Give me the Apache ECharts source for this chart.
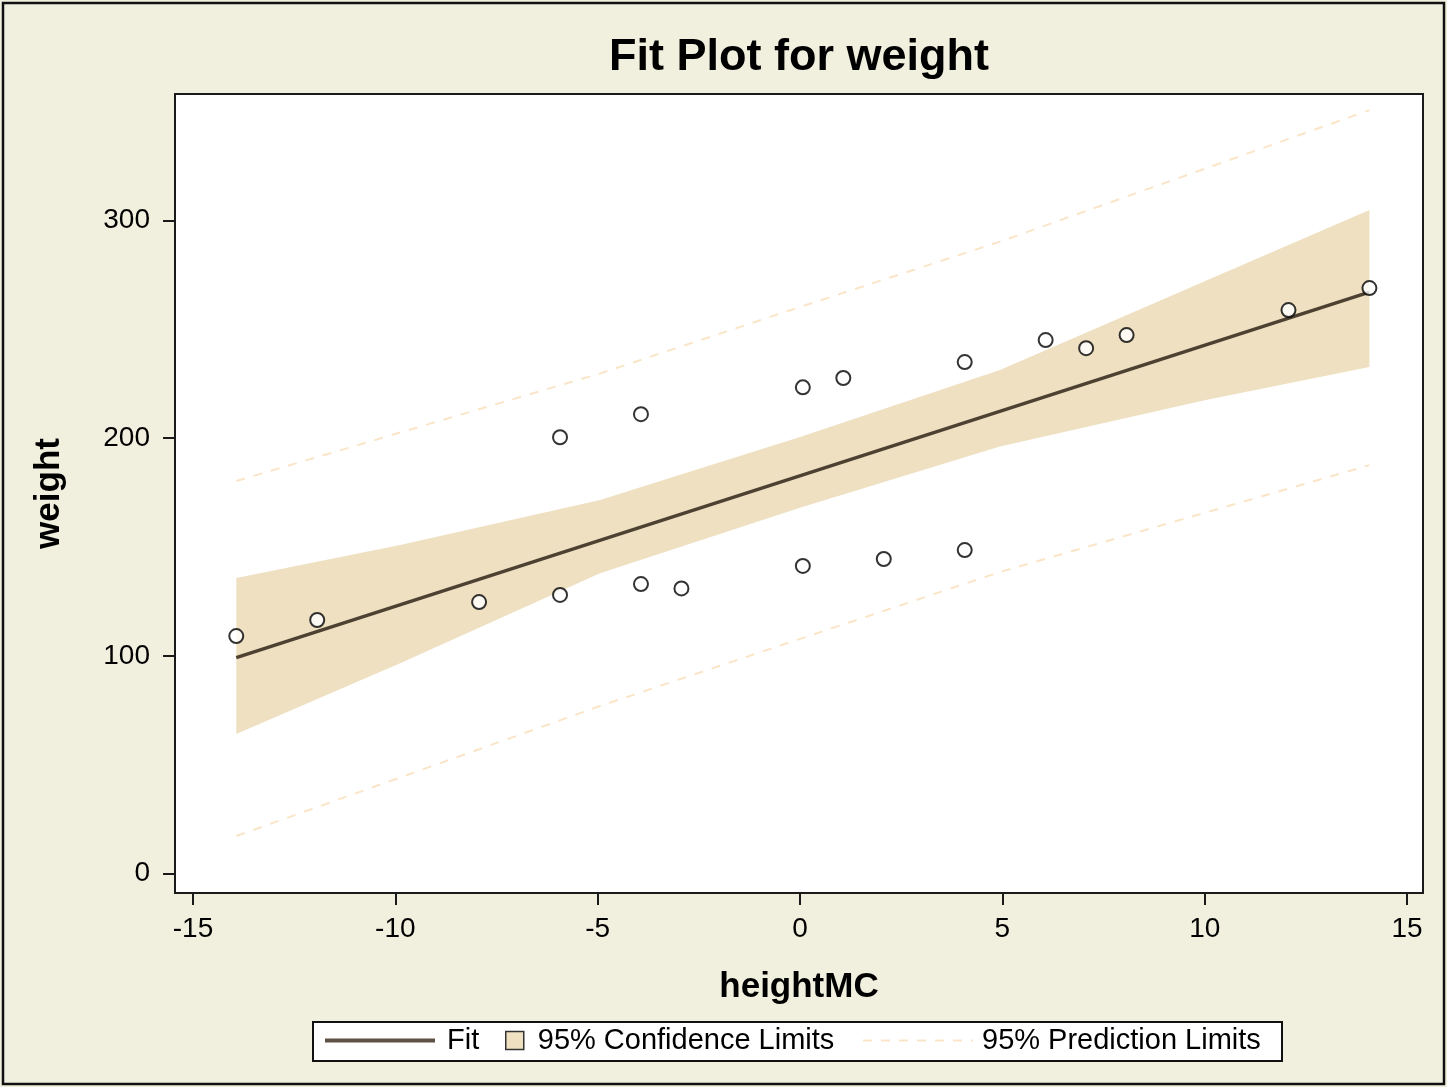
<!DOCTYPE html>
<html>
<head>
<meta charset="utf-8">
<script src="https://cdn.jsdelivr.net/npm/echarts@6/dist/echarts.min.js"></script>
<style>
html,body{margin:0;padding:0;background:#F1F0DF;}
#chart{width:1447px;height:1087px;}
</style>
</head>
<body>
<div id="chart"></div>
<script>
// ---- data ----
const xTicks = [-15, -10, -5, 0, 5, 10, 15];
const yTicks = [0, 100, 200, 300];

const heightMC = [-13.93, -11.93, -7.93, -5.93, -5.93, -3.93, -3.93, -2.93, 0.07, 0.07, 1.07, 2.07, 4.07, 4.07, 6.07, 7.07, 8.07, 12.07, 14.07];
const weight   = [109.1, 116.5, 124.7, 200.4, 128.0, 211.0, 133.0, 131.0, 223.3, 141.3, 227.6, 144.5, 234.9, 148.6, 245.0, 241.3, 247.3, 258.8, 268.9];

const fitX = [-13.93, 14.07];
const fitY = [99.2, 267.0];

const bandX   = [-13.93, -9.88, -4.94, 0, 4.94, 10, 14.07];
const clLower = [64.2, 96.6, 137.9, 168.0, 196.1, 217.4, 232.6];
const clUpper = [135.8, 150.9, 171.6, 200.5, 231.3, 272.0, 304.7];

const predX   = [-13.93, -4.94, 0, 4.94, 14.07];
const plLower = [17.3, 77.0, 107.8, 138.5, 187.6];
const plUpper = [180.3, 229.7, 260.2, 290.2, 350.6];

// ---- chart ----
const FONT = 'Liberation Sans';
const BAND = '#EFE0C2';
const PRED = '#FBE5C8';
const zip = (a, b) => a.map((v, i) => [v, b[i]]);

const chart = echarts.init(document.getElementById('chart'), null, {renderer: 'canvas'});

const option = {
  animation: false,
  backgroundColor: '#F1F0DF',
  title: {
    text: 'Fit Plot for weight',
    left: 794, textAlign: 'center', top: 30,
    textStyle: {fontFamily: FONT, fontSize: 45, fontWeight: 'bold', color: '#000'}
  },
  graphic: [
    {type: 'rect', z: -10, shape: {x: 3, y: 3, width: 1441, height: 1081},
     style: {fill: 'none', stroke: '#111', lineWidth: 2.5}},
    {type: 'rect', z: 0, shape: {x: 313, y: 1022, width: 969, height: 39},
     style: {fill: '#fff', stroke: '#111', lineWidth: 2}}
  ],
  grid: {
    left: 175, top: 94, width: 1248, height: 799,
    show: true, backgroundColor: '#fff', borderColor: '#1a1a1a', borderWidth: 2
  },
  xAxis: {
    type: 'value', min: -15.444, max: 15.394,
    name: 'heightMC', nameLocation: 'middle', nameGap: 77,
    nameTextStyle: {fontFamily: FONT, fontSize: 35, fontWeight: 'bold', color: '#000'},
    axisLine: {show: false, onZero: false},
    splitLine: {show: false},
    axisTick: {show: true, inside: false, length: 12, customValues: xTicks,
               lineStyle: {color: '#1a1a1a', width: 2}},
    axisLabel: {customValues: xTicks, margin: 22,
                fontFamily: FONT, fontSize: 28, color: '#000'}
  },
  yAxis: {
    type: 'value', min: -8.86, max: 358.0,
    name: 'weight', nameLocation: 'middle', nameGap: 108, nameRotate: 90,
    nameTextStyle: {fontFamily: FONT, fontSize: 35, fontWeight: 'bold', color: '#000'},
    axisLine: {show: false, onZero: false},
    splitLine: {show: false},
    axisTick: {show: true, inside: false, length: 12, customValues: yTicks,
               lineStyle: {color: '#1a1a1a', width: 2}},
    axisLabel: {customValues: yTicks, margin: 25,
                fontFamily: FONT, fontSize: 28, color: '#000'}
  },
  legend: [
    {left: 325, top: 1026, padding: 0, itemWidth: 110, itemHeight: 4,
     textStyle: {fontFamily: FONT, fontSize: 29, color: '#000', padding: [0, 0, 0, 7]},
     data: [{name: 'Fit', icon: 'rect', itemStyle: {color: '#5e5244', borderWidth: 0}}]},
    {left: 505, top: 1026, padding: 0, itemWidth: 18, itemHeight: 18,
     textStyle: {fontFamily: FONT, fontSize: 29, color: '#000', padding: [0, 0, 0, 9]},
     data: [{name: '95% Confidence Limits', icon: 'rect',
             itemStyle: {color: BAND, borderColor: '#333', borderWidth: 1.5}}]},
    {left: 862, top: 1026, padding: 0, itemWidth: 110, itemHeight: 2,
     textStyle: {fontFamily: FONT, fontSize: 29, color: '#000', padding: [0, 0, 0, 4]},
     data: [{name: '95% Prediction Limits', itemStyle: {opacity: 0}}]}
  ],
  series: [
    {type: 'custom', name: '95% Confidence Limits', silent: true, z: 1,
     itemStyle: {color: BAND},
     data: bandX.map((x, i) => [x, clLower[i], clUpper[i]]),
     renderItem: function (params, api) {
       if (params.dataIndex !== 0) return null;
       const top = bandX.map((x, i) => api.coord([x, clUpper[i]]));
       const bot = bandX.map((x, i) => api.coord([x, clLower[i]])).reverse();
       return {type: 'polygon', shape: {points: top.concat(bot)},
               style: {fill: BAND, stroke: null}};
     }},
    {type: 'line', name: '95% Prediction Limits', data: zip(predX, plUpper),
     symbol: 'none', itemStyle: {color: PRED},
     lineStyle: {color: PRED, width: 2, type: [9, 9]}, z: 2},
    {type: 'line', name: '95% Prediction Limits', data: zip(predX, plLower),
     symbol: 'none', itemStyle: {color: PRED},
     lineStyle: {color: PRED, width: 2, type: [9, 9]}, z: 2},
    {type: 'line', name: 'Fit', data: zip(fitX, fitY),
     symbol: 'none', itemStyle: {color: '#4d4232'},
     lineStyle: {color: '#4d4232', width: 3.5}, z: 3},
    {type: 'scatter', name: 'weight', data: zip(heightMC, weight),
     symbol: 'circle', symbolSize: 14,
     itemStyle: {color: '#fff', borderColor: '#000', borderWidth: 2}, z: 4}
  ]
};
chart.setOption(option);
</script>
</body>
</html>
